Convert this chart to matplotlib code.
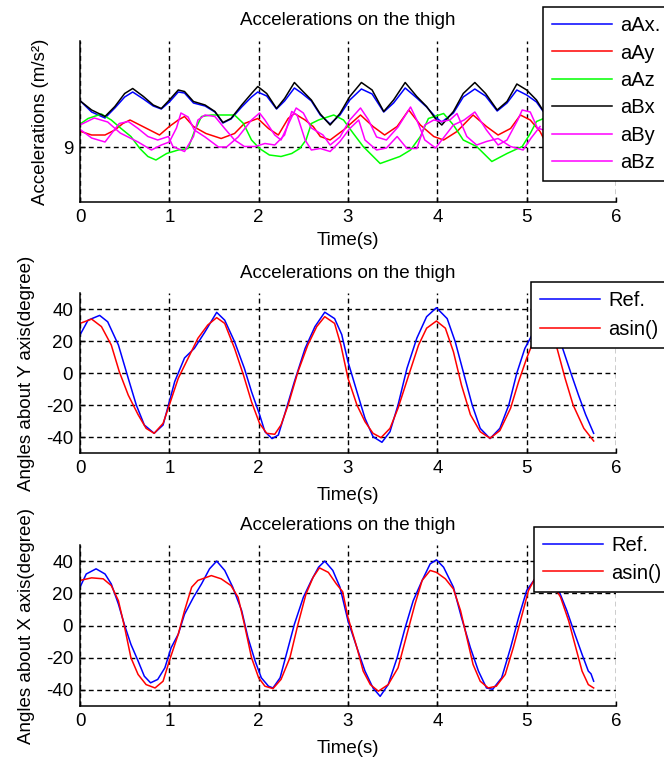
import matplotlib
matplotlib.use("Agg")
import matplotlib.pyplot as plt

plt.rcParams['font.family'] = ['Liberation Sans', 'DejaVu Sans']
plt.rcParams['axes.unicode_minus'] = False
plt.rcParams['font.size'] = 13.5

# ---- top panel: accelerations (m/s^2) ----
t_x = [0.01, 0.13, 0.28, 0.39, 0.50, 0.59, 0.71, 0.82, 0.91, 1.00, 1.10, 1.17, 1.27, 1.40,
       1.51, 1.60, 1.69, 1.81, 1.92, 1.99, 2.09, 2.20, 2.29, 2.40, 2.48, 2.59, 2.69, 2.80,
       2.91, 3.02, 3.15, 3.27, 3.40, 3.51, 3.64, 3.77, 3.88, 3.99, 4.05, 4.18, 4.29, 4.42,
       4.54, 4.67, 4.78, 4.89, 5.00, 5.11, 5.19]
aBx = [9.91, 9.74, 9.61, 9.81, 10.07, 10.17, 10.01, 9.84, 9.77, 9.94, 10.14, 10.11, 9.91, 9.84,
       9.71, 9.49, 9.57, 9.84, 10.07, 10.21, 10.07, 9.77, 9.97, 10.29, 10.14, 9.94, 9.66, 9.44,
       9.67, 10.01, 10.29, 10.14, 9.71, 9.94, 10.29, 10.01, 9.81, 9.54, 9.44, 9.71, 10.07, 10.29,
       10.07, 9.74, 9.91, 10.26, 10.14, 9.94, 9.71]
aAx = [9.91, 9.70, 9.58, 9.78, 10.00, 10.10, 9.96, 9.82, 9.76, 9.90, 10.10, 10.08, 9.88, 9.82,
       9.70, 9.48, 9.56, 9.80, 10.00, 10.10, 10.02, 9.76, 9.92, 10.18, 10.08, 9.92, 9.64, 9.46,
       9.64, 9.94, 10.16, 10.06, 9.70, 9.88, 10.18, 9.98, 9.80, 9.58, 9.50, 9.68, 10.00, 10.16,
       10.02, 9.72, 9.88, 10.14, 10.04, 9.90, 9.70]

t_ay = [0.01, 0.13, 0.28, 0.39, 0.48, 0.56, 0.67, 0.78, 0.89, 1.00, 1.10, 1.17, 1.27, 1.41,
        1.58, 1.73, 1.84, 1.99, 2.11, 2.22, 2.33, 2.40, 2.52, 2.61, 2.69, 2.80, 2.95, 3.14,
        3.28, 3.41, 3.55, 3.68, 3.81, 3.96, 4.07, 4.22, 4.40, 4.55, 4.68, 4.82, 4.93, 5.04,
        5.15, 5.19]
aAy = [9.31, 9.24, 9.24, 9.34, 9.47, 9.54, 9.44, 9.34, 9.24, 9.41, 9.54, 9.61, 9.41, 9.27,
       9.17, 9.27, 9.47, 9.57, 9.37, 9.24, 9.57, 9.67, 9.54, 9.41, 9.21, 9.14, 9.34, 9.64,
       9.41, 9.24, 9.41, 9.74, 9.44, 9.21, 9.14, 9.31, 9.64, 9.41, 9.24, 9.37, 9.64, 9.54,
       9.31, 9.17]

t_az = [0.01, 0.09, 0.24, 0.35, 0.46, 0.57, 0.67, 0.76, 0.85, 0.97, 1.10, 1.21, 1.28, 1.36,
        1.47, 1.62, 1.73, 1.83, 1.92, 2.01, 2.12, 2.25, 2.37, 2.46, 2.53, 2.59, 2.67, 2.72,
        2.84, 2.95, 3.06, 3.17, 3.36, 3.47, 3.58, 3.70, 3.81, 3.90, 4.07, 4.18, 4.29, 4.44,
        4.61, 4.78, 4.95, 5.04, 5.11, 5.19]
aAz = [9.47, 9.57, 9.66, 9.54, 9.37, 9.21, 8.97, 8.81, 8.74, 8.87, 8.94, 8.97, 9.31, 9.61,
       9.64, 9.64, 9.64, 9.47, 9.14, 8.97, 8.84, 8.81, 8.87, 8.97, 9.14, 9.47, 9.54, 9.57,
       9.64, 9.54, 9.27, 9.01, 8.67, 8.74, 8.81, 8.94, 9.21, 9.57, 9.67, 9.44, 9.14, 9.01,
       8.71, 8.87, 9.01, 9.27, 9.51, 9.57]

t_by = [0.00, 0.16, 0.31, 0.45, 0.65, 0.80, 0.91, 1.00, 1.08, 1.13, 1.21, 1.28, 1.40, 1.55,
        1.64, 1.77, 1.92, 2.01, 2.07, 2.18, 2.25, 2.37, 2.42, 2.50, 2.59, 2.72, 2.80, 2.91,
        3.02, 3.14, 3.23, 3.32, 3.43, 3.56, 3.70, 3.77, 3.86, 3.98, 4.05, 4.18, 4.30, 4.42,
        4.55, 4.68, 4.78, 4.90, 4.95, 5.04, 5.12, 5.19]
aBy = [9.44, 9.58, 9.50, 9.28, 9.10, 8.94, 9.04, 9.10, 9.38, 9.68, 9.60, 9.34, 9.20, 9.00,
       9.00, 9.20, 9.54, 9.68, 9.54, 9.24, 9.14, 9.60, 9.78, 9.68, 9.38, 9.24, 9.04, 9.20,
       9.54, 9.78, 9.54, 9.20, 9.14, 9.40, 9.80, 9.54, 9.14, 8.98, 9.14, 9.44, 9.54, 9.70,
       9.34, 9.04, 9.14, 9.54, 9.74, 9.70, 9.38, 9.34]

t_bz = [0.01, 0.13, 0.28, 0.37, 0.44, 0.54, 0.65, 0.76, 0.87, 0.99, 1.04, 1.17, 1.27, 1.32,
        1.40, 1.51, 1.62, 1.73, 1.84, 1.96, 2.07, 2.18, 2.29, 2.37, 2.43, 2.52, 2.59, 2.69,
        2.80, 2.91, 3.02, 3.12, 3.19, 3.32, 3.43, 3.55, 3.66, 3.77, 3.86, 3.96, 4.05, 4.14,
        4.22, 4.33, 4.44, 4.55, 4.68, 4.82, 4.96, 5.05, 5.15]
aBz = [9.34, 9.18, 9.10, 9.31, 9.47, 9.51, 9.37, 9.21, 9.14, 9.21, 9.01, 8.91, 9.21, 9.54,
       9.64, 9.61, 9.37, 9.14, 9.01, 9.01, 9.07, 9.04, 9.24, 9.71, 9.64, 9.14, 8.94, 8.97,
       8.91, 9.11, 9.37, 9.54, 9.14, 8.94, 8.98, 9.21, 8.97, 8.97, 9.44, 9.54, 9.51, 9.54,
       9.67, 9.21, 9.04, 9.11, 9.17, 9.01, 8.94, 9.18, 9.41]

# ---- middle panel: angle about Y axis (degree) ----
t_y_ref = [0.00, 0.09, 0.22, 0.31, 0.43, 0.54, 0.63, 0.72, 0.83, 0.93, 1.00, 1.06, 1.17, 1.28,
           1.40, 1.53, 1.62, 1.73, 1.84, 1.92, 2.01, 2.07, 2.15, 2.22, 2.29, 2.40, 2.52, 2.63,
           2.74, 2.85, 2.93, 3.00, 3.10, 3.19, 3.28, 3.38, 3.47, 3.56, 3.66, 3.77, 3.88, 3.99,
           4.11, 4.20, 4.29, 4.39, 4.48, 4.59, 4.70, 4.80, 4.89, 4.98, 5.06, 5.15, 5.24, 5.32,
           5.39, 5.49, 5.58, 5.66, 5.75]
y_ref = [23.8, 33.0, 36.0, 32.0, 17.5, -3.3, -20.0, -32.5, -37.7, -32.5, -18.0, -5.4, 9.4, 15.4,
         25.8, 37.9, 33.0, 19.6, 2.9, -11.7, -26.0, -36.7, -41.0, -38.8, -26.0, -5.4, 15.4, 29.0,
         38.0, 34.0, 24.0, 7.0, -11.7, -28.3, -39.8, -43.3, -36.7, -20.0, 2.9, 21.7, 35.2, 40.8,
         34.0, 19.6, 0.8, -20.0, -34.6, -41.0, -34.6, -20.0, 0.0, 15.4, 23.8, 33.0, 37.0, 30.0,
         17.5, 0.8, -13.8, -26.0, -37.7]

t_y_asin = [0.00, 0.13, 0.24, 0.35, 0.44, 0.54, 0.65, 0.74, 0.83, 0.93, 1.00, 1.10, 1.21, 1.32,
            1.43, 1.53, 1.62, 1.73, 1.83, 1.92, 2.01, 2.09, 2.18, 2.25, 2.33, 2.44, 2.55, 2.65,
            2.74, 2.85, 2.92, 3.00, 3.10, 3.19, 3.28, 3.37, 3.47, 3.56, 3.68, 3.79, 3.88, 3.99,
            4.09, 4.18, 4.27, 4.37, 4.48, 4.59, 4.70, 4.82, 4.91, 5.00, 5.09, 5.18, 5.26, 5.34,
            5.43, 5.52, 5.64, 5.75]
y_asin = [31.0, 33.7, 29.0, 17.5, 0.8, -13.8, -26.0, -34.6, -37.7, -31.5, -20.0, -3.3, 9.2, 21.7,
          30.0, 34.6, 31.0, 15.4, -1.3, -18.0, -31.5, -37.7, -38.3, -32.5, -20.0, 0.8, 17.5, 29.0,
          35.2, 31.0, 17.5, -3.3, -20.0, -30.4, -37.7, -40.4, -34.6, -22.0, -1.3, 17.5, 28.0, 32.5,
          28.0, 13.3, -7.5, -26.0, -36.7, -40.8, -36.0, -22.0, -5.4, 9.2, 22.0, 31.0, 29.0, 15.4,
          -3.3, -20.0, -34.6, -42.5]

# ---- bottom panel: angle about X axis (degree) ----
t_x_ref = [0.00, 0.07, 0.18, 0.28, 0.35, 0.43, 0.50, 0.57, 0.65, 0.72, 0.79, 0.87, 0.95, 1.02,
           1.10, 1.17, 1.27, 1.36, 1.45, 1.53, 1.62, 1.71, 1.81, 1.88, 1.96, 2.03, 2.11, 2.16,
           2.24, 2.31, 2.40, 2.50, 2.59, 2.67, 2.74, 2.83, 2.91, 3.00, 3.10, 3.19, 3.28, 3.36,
           3.45, 3.55, 3.64, 3.73, 3.83, 3.92, 3.99, 4.07, 4.18, 4.27, 4.37, 4.46, 4.55, 4.62,
           4.72, 4.82, 4.91, 5.00, 5.08, 5.18, 5.26, 5.36, 5.45, 5.54, 5.62, 5.69, 5.72, 5.75]
x_ref = [23.8, 32.0, 35.2, 32.0, 25.8, 13.3, 0.0, -11.7, -22.0, -31.5, -35.6, -33.5, -26.3, -13.8,
         -5.4, 7.0, 17.5, 25.8, 35.2, 40.0, 34.2, 23.8, 9.2, -7.5, -22.0, -32.5, -37.7, -38.8,
         -32.5, -17.9, 0.8, 17.5, 28.0, 36.2, 40.0, 34.2, 23.8, 2.9, -13.8, -28.3, -38.8, -44.0,
         -36.7, -20.0, -1.3, 15.4, 28.0, 38.3, 40.8, 36.2, 23.8, 5.0, -13.8, -28.3, -38.8, -39.6,
         -32.5, -13.8, 5.0, 21.7, 28.0, 35.0, 33.0, 21.7, 9.2, -5.4, -17.9, -28.3, -30.0, -34.6]

t_x_asin = [0.00, 0.13, 0.26, 0.35, 0.43, 0.50, 0.57, 0.65, 0.74, 0.84, 0.93, 1.00, 1.10, 1.17,
            1.25, 1.32, 1.47, 1.58, 1.69, 1.77, 1.84, 1.92, 2.00, 2.07, 2.16, 2.25, 2.35, 2.44,
            2.53, 2.61, 2.68, 2.78, 2.87, 2.94, 3.00, 3.10, 3.17, 3.25, 3.34, 3.45, 3.56, 3.66,
            3.75, 3.83, 3.92, 3.99, 4.09, 4.18, 4.26, 4.33, 4.40, 4.48, 4.57, 4.66, 4.76, 4.85,
            4.95, 5.02, 5.10, 5.17, 5.27, 5.38, 5.47, 5.54, 5.62, 5.69, 5.75]
x_asin = [28.0, 29.6, 29.0, 24.8, 15.4, -1.3, -20.0, -30.4, -36.7, -38.8, -34.6, -22.0, -5.4, 9.2,
          23.8, 28.0, 31.0, 29.0, 24.8, 17.5, 0.8, -20.0, -32.5, -37.7, -39.2, -33.5, -20.0, 0.8,
          19.6, 30.0, 35.8, 33.0, 25.8, 21.0, 5.0, -13.8, -28.3, -36.7, -40.8, -36.7, -26.3, -5.4,
          13.3, 28.0, 34.2, 33.0, 29.0, 22.7, 9.2, -7.5, -24.2, -34.6, -38.8, -37.7, -30.4, -13.8,
          7.0, 21.7, 30.0, 33.0, 28.0, 17.5, 2.9, -11.7, -28.3, -36.7, -38.8]

angle_ticks = [-40, -20, 0, 20, 40]
title_text = 'Accelerations on the thigh'

W, H = 664, 760
fig = plt.figure(figsize=(W / 100, H / 100), dpi=100)


def add_axes_px(left, top, right, bottom):
    """axes placed by pixel edges of the 664x760 canvas"""
    return fig.add_axes([left / W, 1 - bottom / H, (right - left) / W, (bottom - top) / H])


def style_axes(ax, ylabel, ylabel_x, xlabel_y, yticks, ylim):
    ax.set_xlim(0, 6)
    ax.set_xticks(range(7))
    ax.set_ylim(*ylim)
    ax.set_yticks(yticks)
    ax.spines['top'].set_visible(False)
    ax.spines['right'].set_visible(False)
    for s in ['left', 'bottom']:
        ax.spines[s].set_linewidth(1.1)
    ax.tick_params(direction='in', length=3.5, width=1, pad=5, labelsize=13.5)
    ax.grid(True, color='black', linestyle=(0, (3.5, 2.5)), linewidth=1.0)
    ax.set_xlabel('Time(s)')
    ax.xaxis.set_label_coords(0.5, xlabel_y)
    ax.xaxis.label.set_va('center')
    ax.set_ylabel(ylabel)
    ax.yaxis.set_label_coords(ylabel_x, 0.5)
    ax.yaxis.label.set_va('center')


def add_legend(ax, left_px, top_px, spacing):
    leg = ax.legend(loc='upper left', bbox_to_anchor=(left_px / W, 1 - top_px / H),
                    bbox_transform=fig.transFigure, borderaxespad=0, fancybox=False,
                    framealpha=1, edgecolor='black', handlelength=3.0, handletextpad=0.4,
                    labelspacing=spacing, borderpad=0.45, fontsize=14.5)
    leg.get_frame().set_linewidth(1.1)
    return leg


lw = 1.1

# Top: accelerations
ax1 = add_axes_px(80, 41, 616, 202)
ax1.plot(t_x, aAx, color='blue', lw=lw, label='aAx.')
ax1.plot(t_ay, aAy, color='red', lw=lw, label='aAy')
ax1.plot(t_az, aAz, color='lime', lw=lw, label='aAz')
ax1.plot(t_x, aBx, color='black', lw=lw, label='aBx')
ax1.plot(t_by, aBy, color='magenta', lw=lw, label='aBy')
ax1.plot(t_bz, aBz, color='magenta', lw=lw, label='aBz')
style_axes(ax1, 'Accelerations (m/s²)', -0.0728, -0.242, [9], (7.9, 11.12))
add_legend(ax1, 543, 7, 0.42)
fig.text(348 / W, 1 - 25 / H, title_text, ha='center', va='baseline', fontsize=13.5)

# Middle: angles about Y
ax2 = add_axes_px(80, 293, 616, 453)
ax2.plot(t_y_ref, y_ref, color='blue', lw=lw, label='Ref.')
ax2.plot(t_y_asin, y_asin, color='red', lw=lw, label='asin()')
style_axes(ax2, 'Angles about Y axis(degree)', -0.1007, -0.2625, angle_ticks, (-50, 50))
add_legend(ax2, 531, 282, 0.50)
fig.text(348 / W, 1 - 278 / H, title_text, ha='center', va='baseline', fontsize=13.5)

# Bottom: angles about X
ax3 = add_axes_px(80, 545, 616, 706)
ax3.plot(t_x_ref, x_ref, color='blue', lw=lw, label='Ref.')
ax3.plot(t_x_asin, x_asin, color='red', lw=lw, label='asin()')
style_axes(ax3, 'Angles about X axis(degree)', -0.1007, -0.261, angle_ticks, (-50, 50))
add_legend(ax3, 534, 527, 0.42)
fig.text(348 / W, 1 - 530 / H, title_text, ha='center', va='baseline', fontsize=13.5)

fig.savefig('out.png', dpi=100)
